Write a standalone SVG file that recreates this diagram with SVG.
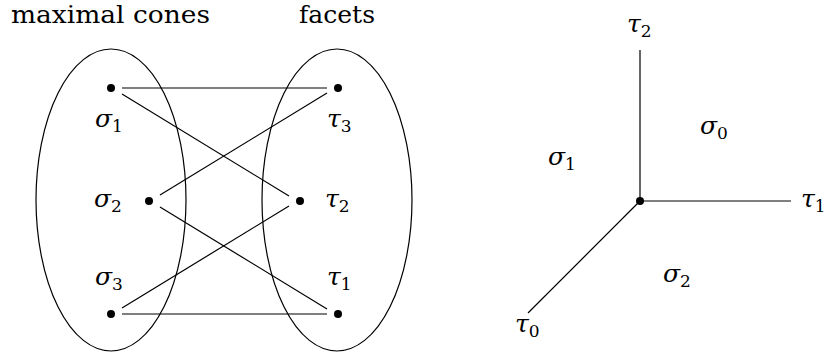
<svg xmlns="http://www.w3.org/2000/svg" width="825" height="358" viewBox="0 0 825 358">
<style>
.t{font-family:'DejaVu Serif','Liberation Serif',serif;font-size:25px;fill:#000}
.m{font-family:'DejaVu Serif','Liberation Serif',serif;font-size:25px;font-style:italic;fill:#000}
.s{font-size:17px;font-style:normal}
.l{stroke:#000;stroke-width:1.2;fill:none}
.d{fill:#000}
</style>
<rect width="825" height="358" fill="#fff"/>
<g id="headers">
<text class="t" x="11" y="23" textLength="199" lengthAdjust="spacingAndGlyphs">maximal cones</text>
<text class="t" x="299" y="23" textLength="76" lengthAdjust="spacingAndGlyphs">facets</text>
</g>
<g id="groups">
<ellipse class="l" cx="111" cy="200" rx="75" ry="151"/>
<ellipse class="l" cx="337" cy="200" rx="75" ry="151"/>
</g>
<g id="connectors">
<line class="l" x1="122" y1="88" x2="327" y2="88"/>
<line class="l" x1="122" y1="94" x2="289" y2="196"/>
<line class="l" x1="160" y1="195" x2="327" y2="93"/>
<line class="l" x1="160" y1="207" x2="327" y2="309"/>
<line class="l" x1="122" y1="308" x2="289" y2="206"/>
<line class="l" x1="122" y1="314" x2="327" y2="314"/>
</g>
<g id="sigma1"><circle class="d" cx="111" cy="88" r="4"/><text class="m" x="95" y="127">σ<tspan class="s" dy="5">1</tspan></text></g>
<g id="sigma2"><circle class="d" cx="149" cy="201" r="4"/><text class="m" x="94" y="207">σ<tspan class="s" dy="5">2</tspan></text></g>
<g id="sigma3"><circle class="d" cx="111" cy="314" r="4"/><text class="m" x="95" y="285">σ<tspan class="s" dy="5">3</tspan></text></g>
<g id="tau3"><circle class="d" cx="338" cy="88" r="4"/><text class="m" x="327" y="127">τ<tspan class="s" dy="5">3</tspan></text></g>
<g id="tau2"><circle class="d" cx="300" cy="201" r="4"/><text class="m" x="325" y="207">τ<tspan class="s" dy="5">2</tspan></text></g>
<g id="tau1"><circle class="d" cx="338" cy="314" r="4"/><text class="m" x="327" y="285">τ<tspan class="s" dy="5">1</tspan></text></g>
<g id="fan">
<line class="l" x1="640" y1="201" x2="640" y2="50"/>
<line class="l" x1="640" y1="201" x2="791" y2="201"/>
<line class="l" x1="640" y1="201" x2="528" y2="313"/>
<circle class="d" cx="640" cy="201" r="4"/>
<text class="m" x="627" y="32">τ<tspan class="s" dy="5">2</tspan></text>
<text class="m" x="801" y="207">τ<tspan class="s" dy="5">1</tspan></text>
<text class="m" x="515" y="332">τ<tspan class="s" dy="5">0</tspan></text>
<text class="m" x="700" y="134">σ<tspan class="s" dy="5">0</tspan></text>
<text class="m" x="548" y="165">σ<tspan class="s" dy="5">1</tspan></text>
<text class="m" x="663" y="282">σ<tspan class="s" dy="5">2</tspan></text>
</g>
</svg>
